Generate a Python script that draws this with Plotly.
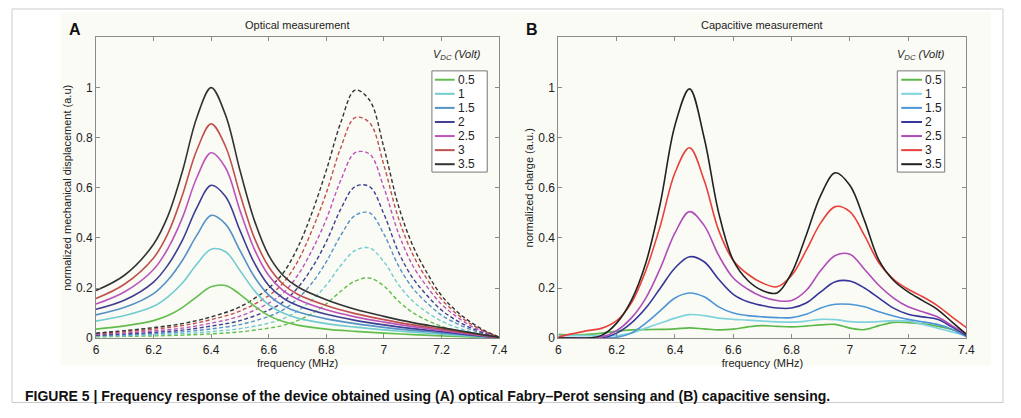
import plotly.graph_objects as go

# ---------------- data ----------------
vdc_labels = ["0.5", "1", "1.5", "2", "2.5", "3", "3.5"]

# Panel A: optical measurement (solid = first mode, dashed = second mode)
freq_a_solid = [6.0, 6.1, 6.2, 6.25, 6.3, 6.35, 6.4, 6.45, 6.5, 6.55, 6.6, 6.65, 6.7, 6.8, 6.9, 7.0, 7.1, 7.2, 7.3, 7.4]
a_solid_05 = [0.036, 0.049, 0.07, 0.09, 0.122, 0.165, 0.205, 0.21, 0.175, 0.128, 0.09, 0.066, 0.052, 0.036, 0.027, 0.02, 0.014, 0.009, 0.005, 0.001]
a_solid_10 = [0.068, 0.09, 0.127, 0.165, 0.22, 0.295, 0.355, 0.345, 0.27, 0.19, 0.133, 0.1, 0.08, 0.058, 0.044, 0.033, 0.024, 0.016, 0.008, 0.001]
a_solid_15 = [0.093, 0.123, 0.178, 0.232, 0.31, 0.41, 0.49, 0.455, 0.35, 0.245, 0.172, 0.13, 0.105, 0.077, 0.058, 0.043, 0.031, 0.021, 0.011, 0.002]
a_solid_20 = [0.115, 0.152, 0.224, 0.292, 0.39, 0.52, 0.61, 0.565, 0.43, 0.3, 0.21, 0.16, 0.13, 0.095, 0.071, 0.053, 0.038, 0.026, 0.013, 0.002]
a_solid_25 = [0.136, 0.185, 0.274, 0.358, 0.48, 0.64, 0.74, 0.68, 0.51, 0.355, 0.25, 0.19, 0.155, 0.113, 0.085, 0.064, 0.046, 0.031, 0.016, 0.002]
a_solid_30 = [0.158, 0.216, 0.32, 0.418, 0.57, 0.75, 0.855, 0.765, 0.575, 0.40, 0.285, 0.215, 0.175, 0.13, 0.098, 0.074, 0.053, 0.036, 0.019, 0.003]
a_solid_35 = [0.19, 0.252, 0.375, 0.488, 0.665, 0.88, 1.0, 0.89, 0.67, 0.47, 0.33, 0.25, 0.205, 0.153, 0.115, 0.087, 0.062, 0.042, 0.022, 0.003]

freq_a_dash = [6.0, 6.1, 6.2, 6.3, 6.4, 6.5, 6.6, 6.65, 6.7, 6.75, 6.8, 6.85, 6.9, 6.95, 7.0, 7.05, 7.1, 7.15, 7.2, 7.25, 7.3, 7.35, 7.4]
a_dash_05 = [0.005, 0.007, 0.009, 0.012, 0.017, 0.025, 0.04, 0.051, 0.07, 0.098, 0.137, 0.187, 0.228, 0.24, 0.208, 0.148, 0.102, 0.071, 0.047, 0.03, 0.018, 0.008, 0.001]
a_dash_10 = [0.008, 0.01, 0.013, 0.018, 0.026, 0.038, 0.06, 0.078, 0.108, 0.152, 0.212, 0.29, 0.35, 0.36, 0.305, 0.215, 0.148, 0.103, 0.068, 0.044, 0.026, 0.012, 0.002]
a_dash_15 = [0.01, 0.013, 0.018, 0.025, 0.037, 0.054, 0.087, 0.113, 0.157, 0.22, 0.305, 0.41, 0.49, 0.5, 0.415, 0.29, 0.2, 0.14, 0.092, 0.06, 0.035, 0.017, 0.002]
a_dash_20 = [0.012, 0.017, 0.023, 0.032, 0.048, 0.07, 0.112, 0.145, 0.2, 0.28, 0.385, 0.515, 0.605, 0.605, 0.495, 0.345, 0.24, 0.17, 0.112, 0.072, 0.042, 0.02, 0.003]
a_dash_25 = [0.015, 0.021, 0.029, 0.04, 0.06, 0.088, 0.14, 0.18, 0.25, 0.35, 0.475, 0.63, 0.74, 0.735, 0.6, 0.42, 0.29, 0.205, 0.135, 0.088, 0.05, 0.024, 0.003]
a_dash_30 = [0.018, 0.026, 0.036, 0.05, 0.074, 0.108, 0.17, 0.22, 0.305, 0.43, 0.58, 0.76, 0.88, 0.86, 0.69, 0.48, 0.335, 0.235, 0.155, 0.1, 0.058, 0.027, 0.004]
a_dash_35 = [0.02, 0.03, 0.042, 0.058, 0.085, 0.125, 0.2, 0.26, 0.36, 0.5, 0.67, 0.86, 0.99, 0.95, 0.76, 0.53, 0.37, 0.26, 0.17, 0.11, 0.065, 0.03, 0.004]

# Panel B: capacitive measurement
freq_b = [6.0, 6.05, 6.1, 6.15, 6.2, 6.25, 6.3, 6.35, 6.4, 6.45, 6.5, 6.55, 6.6, 6.65, 6.7,
          6.75, 6.8, 6.85, 6.9, 6.95, 7.0, 7.05, 7.1, 7.15, 7.2, 7.25, 7.3, 7.35, 7.4]
b_05 = [0.015, 0.012, 0.015, 0.02, 0.028, 0.033, 0.034, 0.035, 0.037, 0.041, 0.037, 0.033, 0.036, 0.045, 0.05,
        0.047, 0.045, 0.048, 0.053, 0.055, 0.04, 0.034, 0.05, 0.063, 0.062, 0.057, 0.048, 0.035, 0.018]
b_10 = [0.01, 0.01, 0.01, 0.01, 0.01, 0.02, 0.04, 0.06, 0.08, 0.094, 0.09, 0.08, 0.075, 0.072, 0.068,
        0.065, 0.064, 0.068, 0.075, 0.074, 0.066, 0.064, 0.066, 0.07, 0.068, 0.055, 0.04, 0.025, 0.01]
b_15 = [0.0, 0.0, 0.0, 0.0, 0.003, 0.02, 0.06, 0.11, 0.16, 0.18, 0.165, 0.125, 0.1, 0.09, 0.085,
        0.082, 0.082, 0.095, 0.12, 0.135, 0.135, 0.125, 0.105, 0.088, 0.075, 0.065, 0.055, 0.035, 0.005]
b_20 = [0.0, 0.0, 0.0, 0.0, 0.02, 0.06, 0.12, 0.2, 0.28, 0.325, 0.305, 0.235, 0.175, 0.145, 0.13,
        0.12, 0.12, 0.14, 0.185, 0.225, 0.228, 0.2, 0.16, 0.12, 0.095, 0.085, 0.075, 0.045, 0.01]
b_25 = [0.0, 0.0, 0.0, 0.005, 0.03, 0.08, 0.16, 0.28, 0.42, 0.505, 0.45, 0.33, 0.24, 0.195, 0.165,
        0.15, 0.15, 0.19, 0.27, 0.33, 0.335, 0.275, 0.21, 0.16, 0.125, 0.105, 0.085, 0.05, 0.015]
b_30 = [0.005, 0.018, 0.03, 0.04, 0.07, 0.14, 0.27, 0.45, 0.66, 0.76, 0.63, 0.43, 0.31, 0.255, 0.22,
        0.205, 0.25, 0.35, 0.46, 0.525, 0.505, 0.41, 0.3, 0.235, 0.195, 0.165, 0.13, 0.085, 0.042]
b_35 = [0.0, 0.0, 0.0, 0.012, 0.06, 0.15, 0.3, 0.54, 0.85, 0.995, 0.8, 0.5, 0.31, 0.23, 0.19,
        0.18, 0.26, 0.41, 0.57, 0.66, 0.61, 0.47, 0.31, 0.23, 0.185, 0.15, 0.115, 0.065, 0.015]

x_tickvals = [6, 6.2, 6.4, 6.6, 6.8, 7, 7.2, 7.4]
x_ticktext = ["6", "6.2", "6.4", "6.6", "6.8", "7", "7.2", "7.4"]
y_tickvals = [0, 0.2, 0.4, 0.6, 0.8, 1]
y_ticktext = ["0", "0.2", "0.4", "0.6", "0.8", "1"]

colors_a = ["#62be4c", "#72cccf", "#5592c6", "#3e3e92", "#bb55bb", "#c0504f", "#333333"]
colors_b = ["#5cb84a", "#80d2de", "#4d95d6", "#35359a", "#b04cb8", "#e8403a", "#222222"]

a_solid = [a_solid_05, a_solid_10, a_solid_15, a_solid_20, a_solid_25, a_solid_30, a_solid_35]
a_dash = [a_dash_05, a_dash_10, a_dash_15, a_dash_20, a_dash_25, a_dash_30, a_dash_35]
b_all = [b_05, b_10, b_15, b_20, b_25, b_30, b_35]

# ---------------- figure ----------------
# the page body has an 8px default margin on every side; size the figure so the page never scrolls
OFF = 8
W, H = 1021 - 2 * OFF, 418 - 2 * OFF
fig = go.Figure()


def px_x(p):
    return (p - OFF) / W


def px_y(p):
    return 1 - (p - OFF) / H


for i, lab in enumerate(vdc_labels):
    fig.add_trace(go.Scatter(x=freq_a_dash, y=a_dash[i], mode="lines", line_shape="spline",
                             line=dict(color=colors_a[i], width=1.4, dash="4px,2.5px"),
                             showlegend=False, xaxis="x", yaxis="y", hoverinfo="skip"))
for i, lab in enumerate(vdc_labels):
    fig.add_trace(go.Scatter(x=freq_a_solid, y=a_solid[i], mode="lines", line_shape="spline",
                             line=dict(color=colors_a[i], width=1.6), name=lab,
                             showlegend=False, xaxis="x", yaxis="y"))
for i, lab in enumerate(vdc_labels):
    fig.add_trace(go.Scatter(x=freq_b, y=b_all[i], mode="lines", line_shape="spline",
                             line=dict(color=colors_b[i], width=1.6), name=lab,
                             showlegend=False, xaxis="x2", yaxis="y2"))

axis_common = dict(showgrid=False, zeroline=False, showline=True, linecolor="#8a8a8a", linewidth=1,
                   mirror="ticks", ticks="inside", ticklen=4, tickcolor="#8a8a8a",
                   tickfont=dict(family="Liberation Sans, Arial, sans-serif", size=12, color="#222"))

fig.update_layout(
    width=W, height=H, autosize=False,
    margin=dict(l=0, r=0, t=0, b=0),
    paper_bgcolor="white", plot_bgcolor="white",
    showlegend=False,
    font=dict(family="Liberation Sans, Arial, sans-serif", color="#222"),
    xaxis=dict(domain=[px_x(94), px_x(502)], range=[6, 7.4], tickvals=x_tickvals, ticktext=x_ticktext,
               anchor="y",
               title=dict(text="frequency (MHz)", font=dict(size=11), standoff=0), **axis_common),
    yaxis=dict(domain=[px_y(344), px_y(38)], range=[0, 1.2], tickvals=y_tickvals, ticktext=y_ticktext,
               anchor="x",
               title=dict(text="normalized mechanical displacement (a.u)", font=dict(size=11), standoff=2),
               **axis_common),
    xaxis2=dict(domain=[px_x(562), px_x(975)], range=[6, 7.4], tickvals=x_tickvals, ticktext=x_ticktext,
                anchor="y2",
                title=dict(text="frequency (MHz)", font=dict(size=11), standoff=0), **axis_common),
    yaxis2=dict(domain=[px_y(344), px_y(38)], range=[0, 1.2], tickvals=y_tickvals, ticktext=y_ticktext,
                anchor="x2",
                title=dict(text="normalized charge (a.u.)", font=dict(size=11), standoff=2),
                **axis_common),
)

annotations = [
    dict(text="Optical measurement", x=px_x(298), y=px_y(25), font=dict(size=11)),
    dict(text="Capacitive measurement", x=px_x(768), y=px_y(25), font=dict(size=11)),
    dict(text="A", x=px_x(73), y=px_y(30), font=dict(size=16, color="#111", weight="bold")),
    dict(text="B", x=px_x(535), y=px_y(30), font=dict(size=16, color="#111", weight="bold")),
    dict(text="V<sub>DC</sub> (Volt)", x=px_x(459), y=px_y(56), font=dict(size=11, style="italic")),
    dict(text="V<sub>DC</sub> (Volt)", x=px_x(929), y=px_y(56), font=dict(size=11, style="italic")),
    dict(text="FIGURE 5 | Frequency response of the device obtained using (A) optical Fabry–Perot sensing and (B) capacitive sensing.",
         x=px_x(20), y=px_y(403), xanchor="left",
         font=dict(size=14, weight="bold",
                   family="Liberation Sans Narrow, Arial Narrow, Liberation Sans, sans-serif", color="#111")),
]

shapes = [
    dict(type="rect", xref="paper", yref="paper", x0=px_x(9), x1=px_x(1012), y0=px_y(409.5), y1=px_y(9),
         line=dict(color="#cccccc", width=1), fillcolor="rgba(0,0,0,0)", layer="below"),
    dict(type="rect", xref="paper", yref="paper", x0=px_x(58), x1=px_x(1000), y0=px_y(372), y1=px_y(12),
         line=dict(width=0), fillcolor="#fbfbf6", layer="below"),
]

# legends (box, line samples, labels) in the style of the original
legend_specs = [
    dict(box=(434, 490), line=(437, 457), colors=colors_a),
    dict(box=(905, 953), line=(909, 930), colors=colors_b),
]
entry_y0, entry_dy = 81, 14.33
for spec in legend_specs:
    bx0, bx1 = spec["box"]
    shapes.append(dict(type="rect", xref="paper", yref="paper", x0=px_x(bx0), x1=px_x(bx1),
                       y0=px_y(175), y1=px_y(72), line=dict(color="#777", width=1),
                       fillcolor="white", layer="above"))
    lx0, lx1 = spec["line"]
    for i, lab in enumerate(vdc_labels):
        yy = entry_y0 + i * entry_dy
        shapes.append(dict(type="line", xref="paper", yref="paper", x0=px_x(lx0), x1=px_x(lx1),
                           y0=px_y(yy), y1=px_y(yy), line=dict(color=spec["colors"][i], width=2),
                           layer="above"))
        annotations.append(dict(text=lab, x=px_x(lx1 + 1), y=px_y(yy), xanchor="left",
                                font=dict(size=12, color="#222")))

for a in annotations:
    a.setdefault("xanchor", "center")
    a.update(xref="paper", yref="paper", yanchor="middle", showarrow=False)
fig.update_layout(annotations=annotations, shapes=shapes)

fig.write_html("out.html")
